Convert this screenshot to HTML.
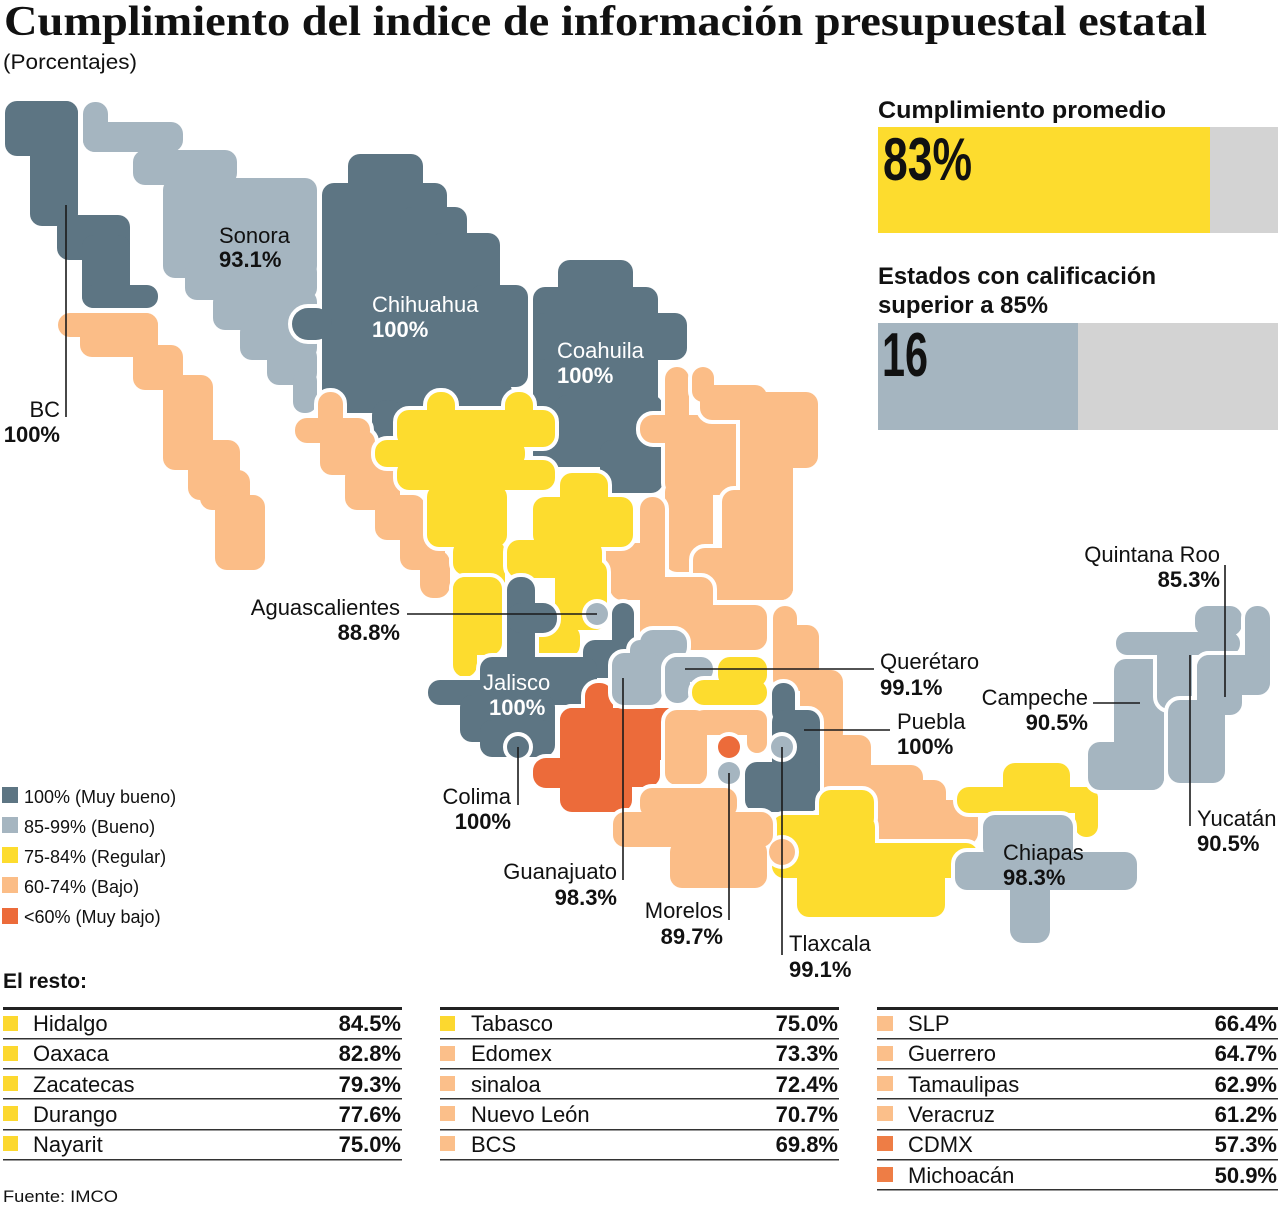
<!DOCTYPE html>
<html>
<head>
<meta charset="utf-8">
<style>
  html,body{margin:0;padding:0;background:#fff;}
  svg{display:block;}
  text{font-family:"Liberation Sans", sans-serif;}
  .n{font-size:22px;fill:#111;}
  .v{font-size:22px;font-weight:bold;fill:#111;}
  .nw{font-size:22px;fill:#fff;}
  .vw{font-size:22px;font-weight:bold;fill:#fff;}
  .lg{font-size:18px;fill:#111;}
  .tn{font-size:22px;fill:#111;}
  .tv{font-size:22px;font-weight:bold;fill:#111;}
  .ln{stroke:#1a1a1a;stroke-width:1.6;fill:none;}
</style>
</head>
<body>
<svg width="1280" height="1207" viewBox="0 0 1280 1207" xmlns="http://www.w3.org/2000/svg">
<defs>
  <g id="bc"><rect x="5" y="101" width="73" height="55" rx="12"/><rect x="30" y="101" width="48" height="125" rx="12"/><rect x="57" y="215" width="73" height="45" rx="12"/><rect x="82" y="235" width="48" height="73" rx="12"/><rect x="82" y="285" width="76" height="23" rx="11"/></g>
  <g id="bcs"><rect x="58" y="313" width="100" height="24" rx="12"/><rect x="80" y="313" width="78" height="44" rx="12"/><rect x="133" y="345" width="50" height="45" rx="12"/><rect x="163" y="375" width="50" height="95" rx="12"/><rect x="188" y="440" width="52" height="60" rx="12"/><rect x="200" y="470" width="50" height="40" rx="12"/><rect x="215" y="495" width="50" height="75" rx="12"/></g>
  <g id="son"><rect x="83" y="102" width="25" height="50" rx="12"/><rect x="83" y="122" width="100" height="30" rx="12"/><rect x="133" y="150" width="104" height="35" rx="12"/><rect x="163" y="178" width="154" height="100" rx="12"/><rect x="185" y="260" width="132" height="40" rx="12"/><rect x="213" y="290" width="104" height="40" rx="12"/><rect x="240" y="320" width="77" height="40" rx="12"/><rect x="267" y="345" width="50" height="40" rx="12"/><rect x="293" y="370" width="24" height="43" rx="11"/></g>
  <g id="chi"><rect x="348" y="154" width="75" height="50" rx="12"/><rect x="322" y="183" width="125" height="230" rx="12"/><rect x="400" y="207" width="67" height="206" rx="12"/><rect x="430" y="233" width="70" height="180" rx="12"/><rect x="470" y="285" width="58" height="102" rx="12"/><rect x="322" y="380" width="190" height="33" rx="12"/><rect x="372" y="400" width="32" height="42" rx="15"/><rect x="292" y="308" width="40" height="32" rx="16"/></g>
  <g id="coa"><rect x="558" y="260" width="75" height="45" rx="12"/><rect x="533" y="287" width="125" height="126" rx="12"/><rect x="533" y="313" width="154" height="47" rx="12"/><rect x="555" y="395" width="108" height="50" rx="12"/><rect x="533" y="440" width="130" height="27" rx="12"/><rect x="600" y="440" width="63" height="53" rx="12"/></g>
  <g id="nl"><rect x="665" y="367" width="24" height="60" rx="12"/><rect x="640" y="415" width="100" height="28" rx="13"/><rect x="665" y="415" width="75" height="80" rx="12"/><rect x="665" y="480" width="48" height="92" rx="12"/></g>
  <g id="tam"><rect x="692" y="367" width="22" height="35" rx="11"/><rect x="700" y="385" width="67" height="35" rx="12"/><rect x="740" y="392" width="78" height="76" rx="12"/><rect x="740" y="392" width="53" height="208" rx="12"/><rect x="722" y="490" width="71" height="110" rx="12"/><rect x="693" y="548" width="100" height="52" rx="12"/></g>
  <g id="slp"><rect x="640" y="497" width="25" height="80" rx="12"/><rect x="597" y="543" width="68" height="50" rx="12"/><rect x="587" y="555" width="25" height="25" rx="12"/><rect x="640" y="577" width="73" height="73" rx="12"/><rect x="640" y="605" width="127" height="45" rx="12"/><rect x="610" y="560" width="50" height="40" rx="12"/></g>
  <g id="ver"><rect x="773" y="606" width="24" height="40" rx="12"/><rect x="773" y="625" width="46" height="66" rx="12"/><rect x="800" y="670" width="43" height="75" rx="12"/><rect x="819" y="735" width="52" height="60" rx="12"/><rect x="843" y="765" width="80" height="35" rx="12"/><rect x="871" y="780" width="75" height="40" rx="12"/><rect x="871" y="800" width="107" height="45" rx="12"/></g>
  <g id="sin"><rect x="318" y="392" width="25" height="45" rx="12"/><rect x="295" y="418" width="75" height="25" rx="12"/><rect x="320" y="430" width="55" height="45" rx="12"/><rect x="345" y="465" width="55" height="45" rx="12"/><rect x="375" y="495" width="50" height="45" rx="12"/><rect x="400" y="525" width="45" height="45" rx="12"/><rect x="420" y="550" width="30" height="48" rx="13"/></g>
  <g id="dur"><rect x="427" y="392" width="28" height="35" rx="13"/><rect x="505" y="392" width="28" height="35" rx="13"/><rect x="397" y="410" width="158" height="37" rx="12"/><rect x="375" y="440" width="150" height="27" rx="12"/><rect x="397" y="460" width="158" height="30" rx="12"/><rect x="427" y="485" width="80" height="62" rx="12"/><rect x="453" y="540" width="52" height="35" rx="12"/><rect x="480" y="560" width="25" height="40" rx="12"/></g>
  <g id="zac"><rect x="560" y="473" width="48" height="40" rx="12"/><rect x="533" y="497" width="100" height="50" rx="12"/><rect x="507" y="540" width="95" height="38" rx="12"/><rect x="555" y="560" width="52" height="70" rx="12"/><rect x="533" y="625" width="47" height="32" rx="12"/></g>
  <g id="nay"><rect x="453" y="577" width="49" height="78" rx="12"/><rect x="453" y="577" width="24" height="100" rx="12"/></g>
  <g id="jal"><rect x="507" y="577" width="28" height="95" rx="13"/><rect x="507" y="603" width="50" height="30" rx="14"/><rect x="612" y="603" width="22" height="60" rx="11"/><rect x="583" y="640" width="51" height="38" rx="12"/><rect x="480" y="657" width="117" height="48" rx="12"/><rect x="428" y="680" width="170" height="25" rx="12"/><rect x="460" y="695" width="95" height="47" rx="12"/><rect x="480" y="720" width="75" height="37" rx="12"/></g>
  <g id="mic"><rect x="585" y="683" width="28" height="40" rx="13"/><rect x="560" y="708" width="127" height="52" rx="12"/><rect x="560" y="708" width="100" height="79" rx="12"/><rect x="533" y="758" width="40" height="30" rx="13"/><rect x="560" y="770" width="72" height="42" rx="12"/></g>
  <g id="gto"><rect x="640" y="630" width="47" height="30" rx="13"/><rect x="630" y="640" width="40" height="30" rx="10"/><rect x="612" y="653" width="50" height="52" rx="12"/></g>
  <g id="qro"><rect x="665" y="657" width="48" height="25" rx="12"/><rect x="665" y="657" width="25" height="46" rx="12"/></g>
  <g id="hgo"><rect x="718" y="657" width="49" height="30" rx="12"/><rect x="692" y="680" width="75" height="25" rx="12"/></g>
  <g id="mex"><rect x="692" y="710" width="75" height="25" rx="12"/><rect x="665" y="710" width="42" height="75" rx="12"/><rect x="747" y="710" width="20" height="43" rx="10"/></g>
  <g id="pue"><rect x="772" y="683" width="23" height="40" rx="11"/><rect x="772" y="710" width="48" height="102" rx="12"/><rect x="745" y="762" width="75" height="50" rx="12"/></g>
  <g id="oax"><rect x="819" y="790" width="55" height="40" rx="12"/><rect x="772" y="815" width="103" height="45" rx="12"/><rect x="772" y="843" width="206" height="35" rx="12"/><rect x="797" y="860" width="148" height="57" rx="12"/></g>
  <g id="gro"><rect x="640" y="788" width="97" height="30" rx="12"/><rect x="613" y="812" width="160" height="35" rx="12"/><rect x="670" y="840" width="97" height="48" rx="12"/><circle cx="782" cy="852" r="13"/></g>
  <g id="tab"><rect x="1003" y="763" width="67" height="40" rx="12"/><rect x="957" y="787" width="141" height="26" rx="12"/><rect x="1075" y="787" width="23" height="50" rx="11"/></g>
  <g id="chs"><rect x="983" y="815" width="90" height="45" rx="12"/><rect x="955" y="852" width="182" height="38" rx="12"/><rect x="1010" y="870" width="40" height="73" rx="13"/></g>
  <g id="cam"><rect x="1114" y="659" width="50" height="131" rx="12"/><rect x="1088" y="742" width="76" height="48" rx="12"/></g>
  <g id="yuc"><rect x="1195" y="606" width="47" height="30" rx="12"/><rect x="1116" y="632" width="124" height="23" rx="11"/><rect x="1157" y="640" width="35" height="69" rx="12"/></g>
  <g id="qroo"><rect x="1245" y="606" width="25" height="88" rx="12"/><rect x="1197" y="655" width="73" height="40" rx="12"/><rect x="1197" y="655" width="45" height="60" rx="12"/><rect x="1168" y="700" width="57" height="83" rx="12"/></g>
  <g id="col"><circle cx="518" cy="747" r="11"/></g>
  <g id="ags"><circle cx="597" cy="614" r="11"/></g>
  <g id="cdmx"><circle cx="729" cy="747" r="11"/></g>
  <g id="mor"><circle cx="729" cy="773" r="11"/></g>
  <g id="tlx"><circle cx="782" cy="747" r="11"/></g>
</defs>

<!-- Title -->
<text x="4" y="35" font-size="42" font-weight="bold" fill="#111" textLength="1203" lengthAdjust="spacingAndGlyphs" style="font-family:'Liberation Serif',serif">Cumplimiento del indice de información presupuestal estatal</text>
<text x="3" y="69" font-size="21" fill="#111" textLength="134" lengthAdjust="spacingAndGlyphs">(Porcentajes)</text>

<!-- Map states: outline pass then fill pass -->
<g stroke="#fff" stroke-width="8" stroke-linejoin="round">
  <use href="#bc" fill="#fff"/><use href="#bc" fill="#5d7583" stroke="none"/>
  <use href="#bcs" fill="#fff"/><use href="#bcs" fill="#fbbd87" stroke="none"/>
  <use href="#son" fill="#fff"/><use href="#son" fill="#a5b5c0" stroke="none"/>
  <use href="#chi" fill="#fff"/><use href="#chi" fill="#5d7583" stroke="none"/>
  <use href="#coa" fill="#fff"/><use href="#coa" fill="#5d7583" stroke="none"/>
  <use href="#nl" fill="#fff"/><use href="#nl" fill="#fbbd87" stroke="none"/>
  <use href="#tam" fill="#fff"/><use href="#tam" fill="#fbbd87" stroke="none"/>
  <use href="#slp" fill="#fff"/><use href="#slp" fill="#fbbd87" stroke="none"/>
  <use href="#ver" fill="#fff"/><use href="#ver" fill="#fbbd87" stroke="none"/>
  <use href="#sin" fill="#fff"/><use href="#sin" fill="#fbbd87" stroke="none"/>
  <use href="#dur" fill="#fff"/><use href="#dur" fill="#fddc2e" stroke="none"/>
  <use href="#zac" fill="#fff"/><use href="#zac" fill="#fddc2e" stroke="none"/>
  <use href="#nay" fill="#fff"/><use href="#nay" fill="#fddc2e" stroke="none"/>
  <use href="#jal" fill="#fff"/><use href="#jal" fill="#5d7583" stroke="none"/>
  <use href="#col" fill="#fff"/><use href="#col" fill="#5d7583" stroke="none"/>
  <use href="#ags" fill="#fff"/><use href="#ags" fill="#a5b5c0" stroke="none"/>
  <use href="#mic" fill="#fff"/><use href="#mic" fill="#ec6b3a" stroke="none"/>
  <use href="#gto" fill="#fff"/><use href="#gto" fill="#a5b5c0" stroke="none"/>
  <use href="#qro" fill="#fff"/><use href="#qro" fill="#a5b5c0" stroke="none"/>
  <use href="#hgo" fill="#fff"/><use href="#hgo" fill="#fddc2e" stroke="none"/>
  <use href="#mex" fill="#fff"/><use href="#mex" fill="#fbbd87" stroke="none"/>
  <use href="#cdmx" fill="#fff"/><use href="#cdmx" fill="#ec6b3a" stroke="none"/>
  <use href="#mor" fill="#fff"/><use href="#mor" fill="#a5b5c0" stroke="none"/>
  <use href="#pue" fill="#fff"/><use href="#pue" fill="#5d7583" stroke="none"/>
  <use href="#tlx" fill="#fff"/><use href="#tlx" fill="#a5b5c0" stroke="none"/>
  <use href="#oax" fill="#fff"/><use href="#oax" fill="#fddc2e" stroke="none"/>
  <use href="#gro" fill="#fff"/><use href="#gro" fill="#fbbd87" stroke="none"/>
  <use href="#tab" fill="#fff"/><use href="#tab" fill="#fddc2e" stroke="none"/>
  <use href="#chs" fill="#fff"/><use href="#chs" fill="#a5b5c0" stroke="none"/>
  <use href="#cam" fill="#fff"/><use href="#cam" fill="#a5b5c0" stroke="none"/>
  <use href="#yuc" fill="#fff"/><use href="#yuc" fill="#a5b5c0" stroke="none"/>
  <use href="#qroo" fill="#fff"/><use href="#qroo" fill="#a5b5c0" stroke="none"/>
</g>

<!-- Leader lines -->
<line class="ln" x1="66" y1="205" x2="66" y2="417"/>
<line class="ln" x1="407" y1="614" x2="597" y2="614"/>
<line class="ln" x1="518" y1="747" x2="518" y2="805"/>
<line class="ln" x1="623" y1="678" x2="623" y2="880"/>
<line class="ln" x1="729" y1="773" x2="729" y2="920"/>
<line class="ln" x1="782" y1="747" x2="782" y2="955"/>
<line class="ln" x1="685" y1="669" x2="874" y2="669"/>
<line class="ln" x1="804" y1="730" x2="890" y2="730"/>
<line class="ln" x1="1093" y1="703" x2="1140" y2="703"/>
<line class="ln" x1="1225" y1="565" x2="1225" y2="697"/>
<line class="ln" x1="1190" y1="655" x2="1190" y2="826"/>

<!-- Map labels -->
<text class="n" x="219" y="243">Sonora</text>
<text class="v" x="219" y="267">93.1%</text>
<text class="nw" x="372" y="312">Chihuahua</text>
<text class="vw" x="372" y="337">100%</text>
<text class="nw" x="557" y="358">Coahuila</text>
<text class="vw" x="557" y="383">100%</text>
<text class="n" x="60" y="417" text-anchor="end">BC</text>
<text class="v" x="60" y="442" text-anchor="end">100%</text>
<text class="n" x="400" y="615" text-anchor="end">Aguascalientes</text>
<text class="v" x="400" y="640" text-anchor="end">88.8%</text>
<text class="nw" x="483" y="690">Jalisco</text>
<text class="vw" x="489" y="715">100%</text>
<text class="n" x="511" y="804" text-anchor="end">Colima</text>
<text class="v" x="511" y="829" text-anchor="end">100%</text>
<text class="n" x="617" y="879" text-anchor="end">Guanajuato</text>
<text class="v" x="617" y="905" text-anchor="end">98.3%</text>
<text class="n" x="723" y="918" text-anchor="end">Morelos</text>
<text class="v" x="723" y="944" text-anchor="end">89.7%</text>
<text class="n" x="789" y="951">Tlaxcala</text>
<text class="v" x="789" y="977">99.1%</text>
<text class="n" x="880" y="669">Querétaro</text>
<text class="v" x="880" y="695">99.1%</text>
<text class="n" x="897" y="729">Puebla</text>
<text class="v" x="897" y="754">100%</text>
<text class="n" x="1088" y="705" text-anchor="end">Campeche</text>
<text class="v" x="1088" y="730" text-anchor="end">90.5%</text>
<text class="n" x="1220" y="562" text-anchor="end">Quintana Roo</text>
<text class="v" x="1220" y="587" text-anchor="end">85.3%</text>
<text class="n" x="1197" y="826">Yucatán</text>
<text class="v" x="1197" y="851">90.5%</text>
<text class="n" x="1003" y="860">Chiapas</text>
<text class="v" x="1003" y="885">98.3%</text>

<!-- Right panel -->
<text x="878" y="118" font-size="24" font-weight="bold" fill="#111" textLength="288" lengthAdjust="spacingAndGlyphs">Cumplimiento promedio</text>
<rect x="878" y="127" width="332" height="106" fill="#fddc2e"/>
<rect x="1210" y="127" width="68" height="106" fill="#d3d3d3"/>
<text x="883" y="180" font-size="60" font-weight="bold" fill="#111" textLength="89" lengthAdjust="spacingAndGlyphs">83%</text>

<text x="878" y="284" font-size="24" font-weight="bold" fill="#111" textLength="278" lengthAdjust="spacingAndGlyphs">Estados con calificación</text>
<text x="878" y="313" font-size="24" font-weight="bold" fill="#111" textLength="170" lengthAdjust="spacingAndGlyphs">superior a 85%</text>
<rect x="878" y="323" width="200" height="107" fill="#a5b5c0"/>
<rect x="1078" y="323" width="200" height="107" fill="#d3d3d3"/>
<text x="882" y="376" font-size="62" font-weight="bold" fill="#111" textLength="46" lengthAdjust="spacingAndGlyphs">16</text>

<!-- Legend -->
<rect x="2" y="787" width="16" height="16" fill="#5d7583"/>
<text class="lg" x="24" y="803">100% (Muy bueno)</text>
<rect x="2" y="817" width="16" height="16" fill="#a5b5c0"/>
<text class="lg" x="24" y="833">85-99% (Bueno)</text>
<rect x="2" y="847" width="16" height="16" fill="#fddc2e"/>
<text class="lg" x="24" y="863">75-84% (Regular)</text>
<rect x="2" y="877" width="16" height="16" fill="#fbbd87"/>
<text class="lg" x="24" y="893">60-74% (Bajo)</text>
<rect x="2" y="908" width="16" height="16" fill="#ec6b3a"/>
<text class="lg" x="24" y="923">&lt;60% (Muy bajo)</text>

<!-- El resto -->
<text x="3" y="988" font-size="21" font-weight="bold" fill="#111">El resto:</text>

<g fill="#222">
  <rect x="3" y="1007" width="399" height="3"/>
  <rect x="440" y="1007" width="399" height="3"/>
  <rect x="877" y="1007" width="401" height="3"/>
</g>
<g fill="#333">
  <rect x="3" y="1038" width="399" height="1.5"/><rect x="3" y="1068" width="399" height="1.5"/><rect x="3" y="1098" width="399" height="1.5"/><rect x="3" y="1129" width="399" height="1.5"/><rect x="3" y="1159" width="399" height="1.5"/>
  <rect x="440" y="1038" width="399" height="1.5"/><rect x="440" y="1068" width="399" height="1.5"/><rect x="440" y="1098" width="399" height="1.5"/><rect x="440" y="1129" width="399" height="1.5"/><rect x="440" y="1159" width="399" height="1.5"/>
  <rect x="877" y="1038" width="401" height="1.5"/><rect x="877" y="1068" width="401" height="1.5"/><rect x="877" y="1098" width="401" height="1.5"/><rect x="877" y="1129" width="401" height="1.5"/><rect x="877" y="1159" width="401" height="1.5"/><rect x="877" y="1189" width="401" height="1.5"/>
</g>

<!-- Column 1 -->
<g>
  <rect x="3" y="1016" width="15" height="15" fill="#fcd82f"/><text class="tn" x="33" y="1031">Hidalgo</text><text class="tv" x="401" y="1031" text-anchor="end">84.5%</text>
  <rect x="3" y="1046" width="15" height="15" fill="#fcd82f"/><text class="tn" x="33" y="1061">Oaxaca</text><text class="tv" x="401" y="1061" text-anchor="end">82.8%</text>
  <rect x="3" y="1076" width="15" height="15" fill="#fcd82f"/><text class="tn" x="33" y="1092">Zacatecas</text><text class="tv" x="401" y="1092" text-anchor="end">79.3%</text>
  <rect x="3" y="1106" width="15" height="15" fill="#fcd82f"/><text class="tn" x="33" y="1122">Durango</text><text class="tv" x="401" y="1122" text-anchor="end">77.6%</text>
  <rect x="3" y="1136" width="15" height="15" fill="#fcd82f"/><text class="tn" x="33" y="1152">Nayarit</text><text class="tv" x="401" y="1152" text-anchor="end">75.0%</text>
</g>
<!-- Column 2 -->
<g>
  <rect x="440" y="1016" width="15" height="15" fill="#fcd82f"/><text class="tn" x="471" y="1031">Tabasco</text><text class="tv" x="838" y="1031" text-anchor="end">75.0%</text>
  <rect x="440" y="1046" width="15" height="15" fill="#fbbf8a"/><text class="tn" x="471" y="1061">Edomex</text><text class="tv" x="838" y="1061" text-anchor="end">73.3%</text>
  <rect x="440" y="1076" width="15" height="15" fill="#fbbf8a"/><text class="tn" x="471" y="1092">sinaloa</text><text class="tv" x="838" y="1092" text-anchor="end">72.4%</text>
  <rect x="440" y="1106" width="15" height="15" fill="#fbbf8a"/><text class="tn" x="471" y="1122">Nuevo León</text><text class="tv" x="838" y="1122" text-anchor="end">70.7%</text>
  <rect x="440" y="1136" width="15" height="15" fill="#fbbf8a"/><text class="tn" x="471" y="1152">BCS</text><text class="tv" x="838" y="1152" text-anchor="end">69.8%</text>
</g>
<!-- Column 3 -->
<g>
  <rect x="877" y="1016" width="16" height="15" fill="#fbbf8a"/><text class="tn" x="908" y="1031">SLP</text><text class="tv" x="1277" y="1031" text-anchor="end">66.4%</text>
  <rect x="877" y="1046" width="16" height="15" fill="#fbbf8a"/><text class="tn" x="908" y="1061">Guerrero</text><text class="tv" x="1277" y="1061" text-anchor="end">64.7%</text>
  <rect x="877" y="1076" width="16" height="15" fill="#fbbf8a"/><text class="tn" x="908" y="1092">Tamaulipas</text><text class="tv" x="1277" y="1092" text-anchor="end">62.9%</text>
  <rect x="877" y="1106" width="16" height="15" fill="#fbbf8a"/><text class="tn" x="908" y="1122">Veracruz</text><text class="tv" x="1277" y="1122" text-anchor="end">61.2%</text>
  <rect x="877" y="1136" width="16" height="15" fill="#ee7d45"/><text class="tn" x="908" y="1152">CDMX</text><text class="tv" x="1277" y="1152" text-anchor="end">57.3%</text>
  <rect x="877" y="1167" width="16" height="15" fill="#ee7d45"/><text class="tn" x="908" y="1183">Michoacán</text><text class="tv" x="1277" y="1183" text-anchor="end">50.9%</text>
</g>

<text x="3" y="1202" font-size="17" fill="#111" textLength="115" lengthAdjust="spacingAndGlyphs">Fuente: IMCO</text>
</svg>
</body>
</html>
